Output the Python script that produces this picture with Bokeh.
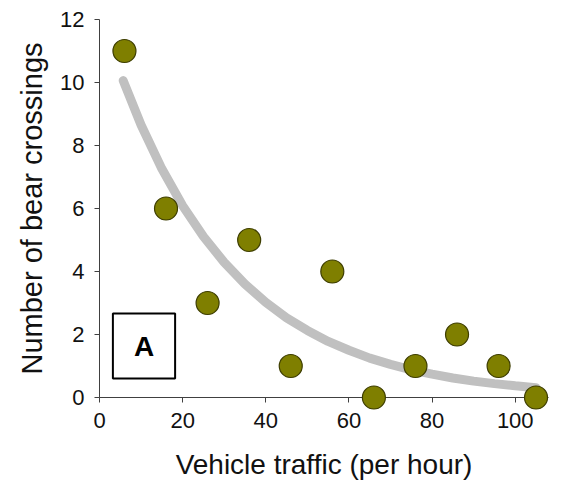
from bokeh.plotting import figure
from bokeh.models import Range1d, Label, ColumnDataSource
from bokeh.embed import file_html
from bokeh.resources import INLINE

# Observed data
traffic = [6, 16, 26, 36, 46, 56, 66, 76, 86, 96, 105]
crossings = [11, 6, 3, 5, 1, 4, 0, 1, 2, 1, 0]

# Fitted trend curve
curve_x = [5.7, 10, 15, 20, 25, 30, 35, 40, 45, 50, 55, 60, 65, 70, 75, 80, 85, 90, 95, 100, 105]
curve_y = [10.06, 8.65, 7.26, 6.09, 5.11, 4.29, 3.60, 3.02, 2.53, 2.13, 1.78, 1.50, 1.25,
           1.05, 0.88, 0.74, 0.62, 0.52, 0.44, 0.37, 0.31]

x_ticks = [0, 20, 40, 60, 80, 100]
y_ticks = [0, 2, 4, 6, 8, 10, 12]

FONT = "Liberation Sans"

p = figure(width=556, height=483, output_backend="svg", toolbar_location=None,
           x_range=Range1d(0, 108), y_range=Range1d(0, 12),
           frame_width=449, frame_height=378,
           min_border_left=99, min_border_right=8, min_border_top=19, min_border_bottom=86)
p.grid.visible = False
p.outline_line_color = None

p.line(curve_x, curve_y, line_color="#c0c0c0", line_width=9, line_cap="round")
src = ColumnDataSource(dict(x=traffic, y=crossings))
r = p.scatter("x", "y", source=src, size=23, fill_color="#7f7f00", line_color="#3d3d00", line_width=1.2)
r.level = "overlay"

for ax in (p.xaxis[0], p.yaxis[0]):
    ax.axis_line_color = "#404040"
    ax.major_tick_line_color = "#404040"
    ax.minor_tick_line_color = None
    ax.major_tick_out = 5
    ax.major_tick_in = 0
    ax.major_label_text_font = FONT
    ax.major_label_text_font_size = "22px"
    ax.major_label_text_color = "#111111"
    ax.axis_label_text_font = FONT
    ax.axis_label_text_font_style = "normal"
    ax.axis_label_text_color = "#111111"

p.xaxis.axis_label_text_font_size = "28px"
p.yaxis.axis_label_text_font_size = "29px"
p.xaxis.ticker = x_ticks
p.yaxis.ticker = y_ticks
p.xaxis.axis_label = "Vehicle traffic (per hour)"
p.yaxis.axis_label = "Number of bear crossings"
p.xaxis.major_label_standoff = 10
p.yaxis.major_label_standoff = 10
p.xaxis.axis_label_standoff = 18
p.yaxis.axis_label_standoff = 9

lab = Label(x=44.5, y=51.5, x_units="screen", y_units="screen", text="A",
            text_font=FONT, text_font_size="28px", text_font_style="bold",
            text_color="black",
            text_align="center", text_baseline="middle",
            border_line_color="black", border_line_width=2,
            background_fill_color="white", padding=(21, 17))
p.add_layout(lab)

open("out.html", "w").write(file_html(p, INLINE))
